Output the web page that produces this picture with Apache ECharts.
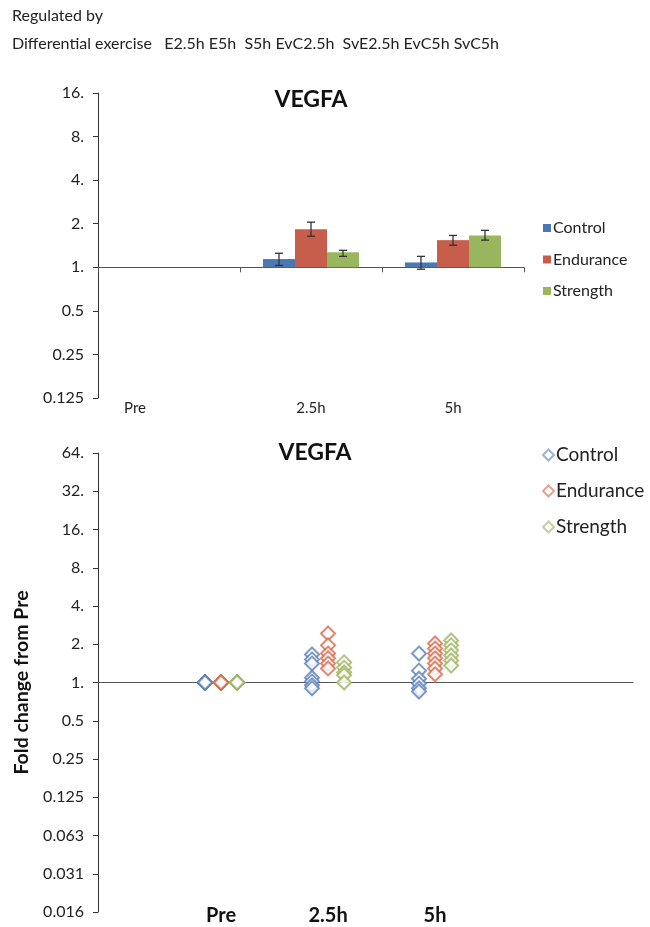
<!DOCTYPE html>
<html><head><meta charset="utf-8">
<script src="https://cdn.jsdelivr.net/npm/echarts@6/dist/echarts.min.js"></script>
<style>html,body{margin:0;padding:0;background:#fff}#c{width:650px;height:927px}</style>
</head><body><div id="c"></div>
<script>
// ---------- data ----------
const categories = ['Pre', '2.5h', '5h'];
const seriesNames = ['Control', 'Endurance', 'Strength'];

// top chart: mean fold change (bars) and error bar limits
const meanControl   = [null, 1.14, 1.08];
const meanEndurance = [null, 1.83, 1.54];
const meanStrength  = [null, 1.27, 1.66];
const errLowControl    = [null, 1.03, 0.97];
const errHighControl   = [null, 1.25, 1.19];
const errLowEndurance  = [null, 1.64, 1.42];
const errHighEndurance = [null, 2.05, 1.66];
const errLowStrength   = [null, 1.19, 1.54];
const errHighStrength  = [null, 1.31, 1.80];

const topTickLabels = ['0.125', '0.25', '0.5', '1.', '2.', '4.', '8.', '16.'];
const bottomTickLabels = ['0.016', '0.031', '0.063', '0.125', '0.25', '0.5', '1.', '2.', '4.', '8.', '16.', '32.', '64.'];

// bottom chart: individual fold changes per time point (Pre, 2.5h, 5h)
const pointsControl = [
  [1, 1, 1, 1, 1, 1, 1],
  [1.66, 1.52, 1.41, 1.09, 1.02, 0.95, 0.90],
  [1.69, 1.24, 1.07, 0.98, 0.90, 0.85]
];
const pointsEndurance = [
  [1, 1, 1, 1, 1, 1],
  [2.43, 1.96, 1.69, 1.55, 1.41, 1.29],
  [2.03, 1.85, 1.69, 1.55, 1.41, 1.29, 1.16]
];
const pointsStrength = [
  [1, 1, 1, 1, 1, 1],
  [1.44, 1.31, 1.20, 1.14, 1.00],
  [2.14, 1.96, 1.79, 1.63, 1.49, 1.36]
];

const headerLine1 = 'Regulated by';
const headerLine2 = 'Differential exercise   E2.5h E5h  S5h EvC2.5h  SvE2.5h EvC5h SvC5h';
const chartTitle = 'VEGFA';
const yAxisTitle = 'Fold change from Pre';

// ---------- styles ----------
const barColors = ['#4A78B4', '#C75E4B', '#98B65E'];
const dotColors = ['#5A7FB8', '#D9694B', '#9DB35E'];
const legendDotColors = ['#9FB2D8', '#E8A290', '#C4D0A4'];
const FONT = 'Lato, "Open Sans", sans-serif';
const TXT = '#222';

const topMin = 0.125, topMax = 16;
const botMin = 1 / 64, botMax = 64;
const topGrid = { left: 98, top: 93, width: 426, height: 305 };
const botGrid = { left: 98, top: 453, width: 535, height: 459 };
const xMax = 5;
const groupOffset = 0.15;   // horizontal offset between series in scatter
const barWidth = 32;

function log2(v) { return Math.log(v) / Math.LN2; }
// pixel offset of the "1" line from the bottom of each grid, derived from axis range
const topOneOffset = -topGrid.height * (log2(1) - log2(topMin)) / (log2(topMax) - log2(topMin));
const botOneOffset = -botGrid.height * (log2(1) - log2(botMin)) / (log2(botMax) - log2(botMin));

const means = [meanControl, meanEndurance, meanStrength];
const errLows = [errLowControl, errLowEndurance, errLowStrength];
const errHighs = [errHighControl, errHighEndurance, errHighStrength];
const pointSets = [pointsControl, pointsEndurance, pointsStrength];

const series = [];
seriesNames.forEach((name, i) => {
  series.push({
    name, type: 'bar', xAxisIndex: 0, yAxisIndex: 0,
    barWidth: barWidth, barGap: '0%',
    itemStyle: { color: barColors[i] },
    data: means[i].map(v => v == null ? '-' : v)
  });
});
seriesNames.forEach((name, i) => {
  const d = [];
  means[i].forEach((v, k) => { if (v != null) d.push([k, errLows[i][k], errHighs[i][k]]); });
  series.push({
    type: 'custom', xAxisIndex: 0, yAxisIndex: 0, z: 5,
    data: d,
    renderItem: function (params, api) {
      const k = api.value(0);
      const lo = api.coord([k, api.value(1)]);
      const hi = api.coord([k, api.value(2)]);
      const x = lo[0] + (i - 1) * barWidth;
      const cap = 4;
      const st = { stroke: '#333', lineWidth: 1.3 };
      return {
        type: 'group', children: [
          { type: 'line', shape: { x1: x, y1: lo[1], x2: x, y2: hi[1] }, style: st },
          { type: 'line', shape: { x1: x - cap, y1: lo[1], x2: x + cap, y2: lo[1] }, style: st },
          { type: 'line', shape: { x1: x - cap, y1: hi[1], x2: x + cap, y2: hi[1] }, style: st }
        ]
      };
    }
  });
});
seriesNames.forEach((name, i) => {
  const d = [];
  pointSets[i].forEach((arr, k) => arr.forEach(v => d.push([k + 1 + i * groupOffset, v])));
  series.push({
    name, type: 'scatter', xAxisIndex: 2, yAxisIndex: 1,
    symbol: 'emptyDiamond', symbolSize: 14,
    itemStyle: { color: dotColors[i], borderWidth: 2 },
    data: d
  });
});

const option = {
  animation: false,
  backgroundColor: '#fff',
  textStyle: { fontFamily: FONT },
  title: [
    { text: headerLine1, left: 12, top: 8, padding: 0, textStyle: { fontSize: 16, fontWeight: 'normal', color: TXT, fontFamily: FONT } },
    { text: headerLine2, left: 12, top: 36, padding: 0, textStyle: { fontSize: 16, fontWeight: 'normal', color: TXT, fontFamily: FONT } },
    { text: chartTitle, left: 311, textAlign: 'center', top: 88, padding: 0, textStyle: { fontSize: 23, fontWeight: 'bold', color: '#111', fontFamily: FONT } },
    { text: chartTitle, left: 315, textAlign: 'center', top: 441, padding: 0, textStyle: { fontSize: 23, fontWeight: 'bold', color: '#111', fontFamily: FONT } }
  ],
  legend: [
    {
      orient: 'vertical', left: 543, top: 219, itemWidth: 8, itemHeight: 8, itemGap: 13.5, padding: 0,
      icon: 'rect', data: seriesNames,
      textStyle: { fontSize: 16, lineHeight: 18, color: TXT, fontFamily: FONT, padding: [0, 0, 0, -3] },
      selectedMode: false
    },
    {
      orient: 'vertical', left: 542, top: 445, itemWidth: 11, itemHeight: 11, itemGap: 16, padding: 0,
      data: seriesNames.map((n, i) => ({ name: n, icon: 'emptyDiamond', itemStyle: { color: legendDotColors[i], borderColor: legendDotColors[i], borderWidth: 1 } })),
      textStyle: { fontSize: 19, lineHeight: 20, color: TXT, fontFamily: FONT, padding: [0, 0, 0, -3] },
      selectedMode: false
    }
  ],
  grid: [
    Object.assign({ containLabel: false }, topGrid),
    Object.assign({ containLabel: false }, botGrid)
  ],
  xAxis: [
    {
      gridIndex: 0, type: 'category', data: categories, position: 'bottom',
      axisLine: { show: false }, axisTick: { show: false },
      axisLabel: { margin: 3, fontSize: 15, color: TXT, fontFamily: FONT,
        formatter: v => v === 'Pre' ? '{pre|' + v + '}' : v,
        rich: { pre: { fontSize: 15, color: TXT, fontFamily: FONT, padding: [0, 68, 0, 0] } } }
    },
    {
      gridIndex: 0, type: 'category', data: categories, position: 'bottom', offset: topOneOffset,
      axisLine: { show: true, lineStyle: { color: '#555', width: 1 } },
      axisTick: { show: true, length: 5, lineStyle: { color: '#555' } },
      axisLabel: { show: false }
    },
    {
      gridIndex: 1, type: 'value', min: 0, max: xMax, position: 'bottom',
      axisLine: { show: false }, axisTick: { show: false }, splitLine: { show: false },
      axisLabel: {
        customValues: [1 + groupOffset, 2 + groupOffset, 3 + groupOffset],
        formatter: v => categories[Math.round(v - 1 - groupOffset)],
        margin: -6, fontSize: 20, fontWeight: 'bold', color: '#111', fontFamily: FONT
      }
    },
    {
      gridIndex: 1, type: 'value', min: 0, max: xMax, position: 'bottom', offset: botOneOffset,
      axisLine: { show: true, lineStyle: { color: '#555', width: 1 } },
      axisTick: { show: false }, axisLabel: { show: false }, splitLine: { show: false }
    }
  ],
  yAxis: [
    {
      gridIndex: 0, type: 'log', logBase: 2, min: topMin, max: topMax, interval: 1, splitNumber: 7,
      axisLine: { show: true, lineStyle: { color: '#333', width: 1 } },
      axisTick: { show: true, length: 5, lineStyle: { color: '#333' } },
      splitLine: { show: false },
      axisLabel: { margin: 14, fontSize: 16, color: TXT, fontFamily: FONT,
        formatter: v => topTickLabels[Math.round(log2(v) - log2(topMin))] }
    },
    {
      gridIndex: 1, type: 'log', logBase: 2, min: botMin, max: botMax, interval: 1, splitNumber: 12,
      axisLine: { show: true, lineStyle: { color: '#333', width: 1 } },
      axisTick: { show: true, length: 5, lineStyle: { color: '#333' } },
      splitLine: { show: false },
      axisLabel: { margin: 14, fontSize: 16, color: TXT, fontFamily: FONT,
        formatter: v => bottomTickLabels[Math.round(log2(v) - log2(botMin))] },
      name: yAxisTitle, nameLocation: 'middle', nameGap: 66,
      nameTextStyle: { fontSize: 19.5, fontWeight: 'bold', color: '#111', fontFamily: FONT }
    }
  ],
  series
};
const chart = echarts.init(document.getElementById('c'), null, { renderer: 'canvas' });
chart.setOption(option);
</script>
</body></html>
